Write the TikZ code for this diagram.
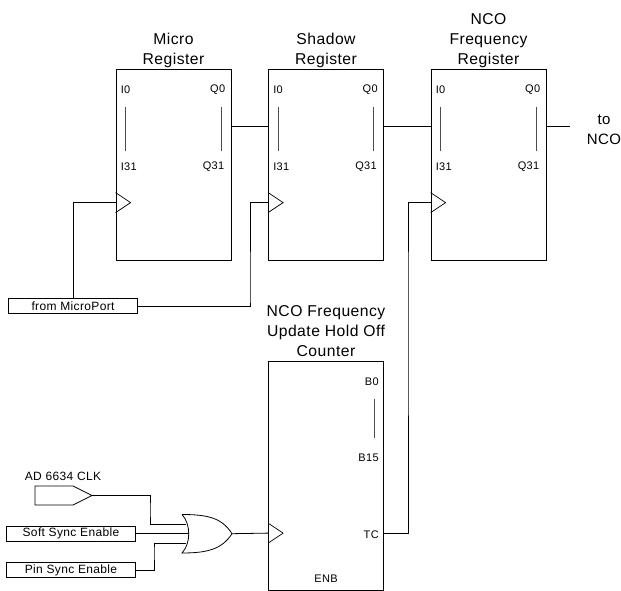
\documentclass[tikz,border=0pt]{standalone}
\usepackage{fontspec}
\setmainfont{Liberation Sans}
\newfontfamily\titlefont[LetterSpace=3]{Liberation Sans}
\newfontfamily\pinfont[LetterSpace=3]{Liberation Sans}
\usetikzlibrary{positioning}

\tikzset{
    regbox/.style={draw, line width=0.8pt, minimum width=115pt, inner sep=0pt},
    portbox/.style={draw, line width=1.3pt, minimum width=129pt, minimum height=15pt, inner sep=0pt, font=\pinfont\fontsize{12}{13}\selectfont},
    boxtitle/.style={align=center, inner sep=0pt, font=\titlefont\fontsize{15.7}{20}\selectfont},
    pinlabel/.style={inner sep=0pt, font=\pinfont\fontsize{11}{13}\selectfont},
    pinbar/.style={line width=0.9pt, black!70},
    wire/.style={line width=0.8pt},
    clock/.style={line width=0.7pt}
}

\begin{document}
\begin{tikzpicture}[x=1pt, y=-1pt]
    \useasboundingbox (0,0) rectangle (621,591);

    % Registers
    \node[regbox, minimum height=191pt] (micro) at (173.5,164.5) {};
    \node[regbox, minimum height=191pt] (shadow) at (326,164.5) {};
    \node[regbox, minimum height=191pt] (ncoreg) at (488.5,164.5) {};
    \node[regbox, minimum height=229pt] (counter) at (326,475.5) {};

    % Titles
    \node[boxtitle, above=0.8pt of micro] (microtitle) {Micro\\Register};
    \node[boxtitle, above=0.8pt of shadow] (shadowtitle) {Shadow\\Register};
    \node[boxtitle, above=0.8pt of ncoreg] (ncotitle) {NCO\\Frequency\\Register};
    \node[boxtitle, above=3.3pt of counter] (countertitle) {NCO Frequency\\Update Hold Off\\Counter};

    % Pins of the registers
    \foreach \reg in {micro, shadow, ncoreg} {
        \node[pinlabel, anchor=west] (\reg i0) at ([xshift=5pt, yshift=-21pt]\reg.north west) {I0};
        \node[pinlabel, anchor=west] (\reg i31) at ([xshift=5pt, yshift=-98.5pt]\reg.north west) {I31};
        \node[pinlabel, anchor=east] (\reg q0) at ([xshift=-6pt, yshift=-21pt]\reg.north east) {Q0};
        \node[pinlabel, anchor=east] (\reg q31) at ([xshift=-7pt, yshift=-98.5pt]\reg.north east) {Q31};
        \draw[pinbar] ([xshift=10pt, yshift=-38pt]\reg.north west) -- ([xshift=10pt, yshift=-82pt]\reg.north west);
        \draw[pinbar] ([xshift=-10pt, yshift=-38pt]\reg.north east) -- ([xshift=-10pt, yshift=-82pt]\reg.north east);
        % data and clock
        \coordinate (\reg in) at ([yshift=-57.7pt]\reg.north west);
        \coordinate (\reg out) at ([yshift=-57.7pt]\reg.north east);
        \coordinate (\reg clk) at ([yshift=-134pt]\reg.north west);
        \draw[clock] ([yshift=10pt]\reg clk) -- ([xshift=15pt]\reg clk) -- ([yshift=-10pt]\reg clk);
    }

    % Pins of the counter
    \node[pinlabel, anchor=east] (b0) at ([xshift=-5pt, yshift=-21pt]counter.north east) {B0};
    \node[pinlabel, anchor=east] (b15) at ([xshift=-5pt, yshift=-97.5pt]counter.north east) {B15};
    \node[pinlabel, anchor=east] (tc) at ([xshift=-5pt, yshift=-174pt]counter.north east) {TC};
    \node[pinlabel] (enb) at ([yshift=11.5pt]counter.south) {ENB};
    \draw[pinbar] ([xshift=-9.5pt, yshift=-38pt]counter.north east) -- ([xshift=-9.5pt, yshift=-77pt]counter.north east);
    \coordinate (counterclk) at ([yshift=-172.5pt]counter.north west);
    \coordinate (countertc) at ([yshift=-172.5pt]counter.north east);
    \draw[clock] ([yshift=10pt]counterclk) -- ([xshift=15pt]counterclk) -- ([yshift=-10pt]counterclk);

    % Inputs
    \node[portbox] (microport) at (73,306) {from MicroPort};
    \node[portbox] (softsync) at (71,533.7) {Soft Sync Enable};
    \node[portbox] (pinsync) at (71,570) {Pin Sync Enable};
    \node[pinlabel, font=\pinfont\fontsize{12}{13}\selectfont] (clklabel) at (63,476) {AD 6634 CLK};

    % Clock input
    \coordinate (clktip) at (92,495.5);
    \draw[clock] (35,486) -- (73,486) -- (clktip) -- (73,505) -- (35,505) -- cycle;

    % Or gate
    \coordinate (gatea) at (186,524.3);
    \coordinate (gateb) at (189,533.7);
    \coordinate (gatec) at (186,543.3);
    \coordinate (gateout) at (232,533.7);
    \draw[line width=0.8pt] (182,514.5) .. controls (191,524) and (191,543.5) .. (182,553)
        .. controls (208,553) and (222,549) .. (gateout)
        .. controls (222,518) and (208,514.5) .. (182,514.5);

    % Wires
    \coordinate (shadowjog) at (250,300);
    \coordinate (ncojog) at (408,300);
    \coordinate (clkjog) at (150,510);
    \coordinate (pinjog) at (154,550);
    \coordinate (outq) at ([xshift=24pt]ncoregout);
    \node[boxtitle, font=\titlefont\fontsize{15}{20}\selectfont] (tonco) at (604,129.5) {to\\NCO};

    \draw[wire] (microout) -- (shadowin);
    \draw[wire] (shadowout) -- (ncoregin);
    \draw[wire, line width=1.2pt] (ncoregout) -- (outq);
    \draw[wire] (microport.north) |- (microclk);
    \draw[wire] (microport.east) -| (shadowjog) |- (shadowclk);
    \draw[wire] (countertc) -| (ncojog) |- (ncoregclk);
    \draw[wire] (clktip) -| (clkjog) |- (gatea);
    \draw[wire] (softsync.east) -- (gateb);
    \draw[wire] (pinsync.east) -| (pinjog) |- (gatec);
    \draw[wire] (gateout) -- (counterclk);
\end{tikzpicture}
\end{document}
